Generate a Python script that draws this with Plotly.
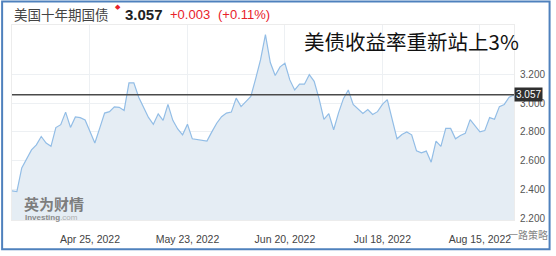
import pandas as pd
import plotly.graph_objects as go

# ---------------- data ----------------
dates = pd.bdate_range("2022-04-01", "2022-08-24").strftime("%Y-%m-%d").tolist()
yields = [
    2.392, 2.387, 2.55, 2.61, 2.675, 2.71, 2.768, 2.723, 2.70, 2.83,
    2.85, 2.937, 2.831, 2.903, 2.899, 2.883, 2.80, 2.723, 2.826, 2.93,
    2.94, 2.973, 2.97, 2.948, 3.14, 3.14, 3.04, 2.975, 2.90, 2.853,
    2.925, 2.88, 2.99, 2.88, 2.82, 2.78, 2.853, 2.752, 2.748, 2.74,
    2.736, 2.80, 2.86, 2.905, 2.93, 2.937, 3.034, 2.975, 3.011, 3.045,
    3.169, 3.30, 3.473, 3.28, 3.19, 3.25, 3.275, 3.16, 3.09, 3.13,
    3.13, 3.196, 3.15, 3.03, 2.887, 2.926, 2.815, 2.932, 3.03, 3.09,
    2.99, 2.961, 2.928, 2.955, 2.921, 2.94, 2.99, 3.023, 2.88, 2.752,
    2.782, 2.80, 2.78, 2.669, 2.655, 2.667, 2.59, 2.736, 2.70, 2.824,
    2.824, 2.752, 2.775, 2.79, 2.885, 2.84, 2.80, 2.809, 2.899, 2.887,
    2.975, 2.99, 3.04, 3.057,
]
tick_dates = ["2022-04-25", "2022-05-23", "2022-06-20", "2022-07-18", "2022-08-15"]
tick_labels = ["Apr 25, 2022", "May 23, 2022", "Jun 20, 2022", "Jul 18, 2022", "Aug 15, 2022"]
y_ticks = [2.2, 2.4, 2.6, 2.8, 3.0, 3.2]
y_tick_labels = ["2.200", "2.400", "2.600", "2.800", "3.000", "3.200"]
last_price = 3.057
last_price_text = "3.057"
change_text = "+0.003"
change_pct_text = "(+0.11%)"
title_text = "美国十年期国债"
headline_text = "美债收益率重新站上3%"
brand_cn = "英为财情"
brand_en = "Investing<span style='font-weight:normal;color:#b0b0b0'>.com</span>"
wechat_mark = "一路策略"

# ---------------- layout geometry (pixels) ----------------
W, H = 556, 256
L, R, T, B = 11, 37, 25, 31
PW, PH = W - L - R, H - T - B


def px(x):
    return (x - L) / PW


def py(y):
    return (H - B - y) / PH


CN = "Noto Sans CJK SC"
AR = "Arial, Liberation Sans, sans-serif"

fig = go.Figure()
fig.add_trace(go.Scatter(
    x=dates, y=yields, mode="lines",
    line=dict(color="#92bde6", width=1.2),
    fill="tozeroy", fillcolor="#e5edf4",
    hoverinfo="skip", showlegend=False,
))

fig.update_layout(
    width=W, height=H,
    margin=dict(l=L, r=R, t=T, b=B, pad=0),
    paper_bgcolor="white", plot_bgcolor="white",
    xaxis=dict(
        type="category", range=[0, len(dates) - 1],
        tickmode="array", tickvals=tick_dates, ticktext=tick_labels,
        showgrid=True, gridcolor="#edf0f3", gridwidth=1,
        showline=True, linecolor="#ececec", mirror=True,
        ticks="", ticklabelstandoff=9,
        tickfont=dict(family=AR, size=10.5, color="#444"),
        zeroline=False, fixedrange=True,
    ),
    yaxis=dict(
        side="right", range=[2.19, 3.54],
        tickmode="array", tickvals=y_ticks, ticktext=y_tick_labels,
        showgrid=True, gridcolor="#edf0f3", gridwidth=1,
        showline=True, linecolor="#ececec", mirror=True,
        ticks="", ticklabelstandoff=3,
        tickfont=dict(family=AR, size=10, color="#555"),
        zeroline=False, fixedrange=True,
    ),
)

# last price line
fig.add_shape(type="line", xref="paper", yref="y", x0=0, x1=1,
              y0=last_price, y1=last_price,
              line=dict(color="#4a4a4a", width=1.5))

# outer blue frame
fig.add_shape(type="rect", xref="paper", yref="paper",
              x0=px(1), x1=px(555), y0=py(255), y1=py(1),
              line=dict(color="#4f81bd", width=2), fillcolor="rgba(0,0,0,0)")

ann = []
# last price tag on the axis
ann.append(dict(xref="paper", yref="y", x=1, y=last_price, xanchor="left", yanchor="middle",
                text=last_price_text, showarrow=False, bgcolor="#2f2f2f",
                font=dict(family=AR, size=10, color="white"), borderpad=1))
# header
ann.append(dict(xref="paper", yref="paper", x=px(11), y=py(14), xanchor="left", yanchor="middle",
                text=title_text, showarrow=False, font=dict(family=CN, size=13.5, color="#444")))
ann.append(dict(xref="paper", yref="paper", x=px(113), y=py(6), xanchor="left", yanchor="middle",
                text="◆", showarrow=False, font=dict(family=AR, size=7, color="#e8222a")))
ann.append(dict(xref="paper", yref="paper", x=px(123), y=py(14), xanchor="left", yanchor="middle",
                text="<b>" + last_price_text + "</b>", showarrow=False,
                font=dict(family=AR, size=15, color="#222")))
ann.append(dict(xref="paper", yref="paper", x=px(169), y=py(14), xanchor="left", yanchor="middle",
                text=change_text, showarrow=False, font=dict(family=AR, size=13, color="#e8222a")))
ann.append(dict(xref="paper", yref="paper", x=px(217), y=py(14), xanchor="left", yanchor="middle",
                text=change_pct_text, showarrow=False, font=dict(family=AR, size=13, color="#e8222a")))
# headline
ann.append(dict(xref="paper", yref="paper", x=px(304), y=py(41), xanchor="left", yanchor="middle",
                text=headline_text, showarrow=False, font=dict(family=CN, size=20.5, color="#111")))
# brand watermark
ann.append(dict(xref="paper", yref="paper", x=px(21), y=py(208), xanchor="left", yanchor="middle",
                text="<b>" + brand_cn + "</b>", showarrow=False, font=dict(family=CN, size=15, color="#7d7d7d")))
ann.append(dict(xref="paper", yref="paper", x=px(22), y=py(222.5), xanchor="left", yanchor="middle",
                text="<b>" + brand_en + "</b>", showarrow=False, font=dict(family=AR, size=8, color="#8a8a8a")))
# wechat watermark
ann.append(dict(xref="paper", yref="paper", x=px(511), y=py(240), xanchor="left", yanchor="middle",
                text=wechat_mark, showarrow=False, font=dict(family=CN, size=10, color="rgba(90,90,90,0.75)")))
fig.update_layout(annotations=ann)

fig.write_html("out.html")
